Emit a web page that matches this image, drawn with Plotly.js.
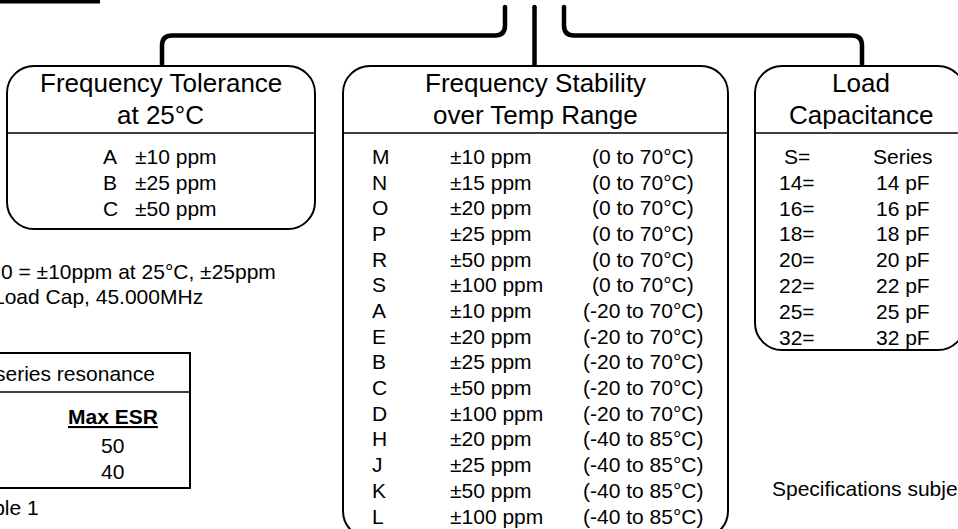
<!DOCTYPE html>
<html><head><meta charset="utf-8">
<script src="https://cdn.plot.ly/plotly-3.0.1.min.js"></script>
<style>html,body{margin:0;padding:0;background:#fff;overflow:hidden}#chart{width:958px;height:529px;}</style>
</head><body><div id="chart"></div>
<script>
// ---- content ----
const boxTitles = [["Frequency Tolerance", "at 25°C"], ["Frequency Stability", "over Temp Range"], ["Load", "Capacitance"]];
const toleranceCodes = ["A", "B", "C"];
const toleranceValues = ["±10 ppm", "±25 ppm", "±50 ppm"];
const stabilityCodes = ["M", "N", "O", "P", "R", "S", "A", "E", "B", "C", "D", "H", "J", "K", "L"];
const stabilityValues = ["±10 ppm", "±15 ppm", "±20 ppm", "±25 ppm", "±50 ppm", "±100 ppm", "±10 ppm", "±20 ppm", "±25 ppm", "±50 ppm", "±100 ppm", "±20 ppm", "±25 ppm", "±50 ppm", "±100 ppm"];
const stabilityRanges = ["(0 to 70°C)", "(0 to 70°C)", "(0 to 70°C)", "(0 to 70°C)", "(0 to 70°C)", "(0 to 70°C)", "(-20 to 70°C)", "(-20 to 70°C)", "(-20 to 70°C)", "(-20 to 70°C)", "(-20 to 70°C)", "(-40 to 85°C)", "(-40 to 85°C)", "(-40 to 85°C)", "(-40 to 85°C)"];
const loadCodes = ["S=", "14=", "16=", "18=", "20=", "22=", "25=", "32="];
const loadValues = ["Series", "14 pF", "16 pF", "18 pF", "20 pF", "22 pF", "25 pF", "32 pF"];
const exampleLines = ["0 = ±10ppm at 25°C, ±25ppm", "Load Cap, 45.000MHz"];
const esrHeader = "series resonance";
const esrColumn = "Max ESR";
const esrValues = ["50", "40"];
const tableCaption = "Table 1";
const footnote = "Specifications subject to change without notice.";

// ---- layout helpers ----
const FONT = "Liberation Sans, Arial, Helvetica, sans-serif";
const BODY = 21, TITLE = 26;
const annotations = [];
function txt(x, y, text, opts) {
  opts = opts || {};
  annotations.push({
    xref: "x", yref: "y", x: x, y: y, text: text, showarrow: false,
    xanchor: opts.xa || "center", yanchor: "middle",
    font: {family: FONT, size: opts.size || BODY, color: "#000"},
    borderpad: 0
  });
}
function roundRect(x0, y0, x1, y1, r) {
  const k = 0.5523 * r;
  return `M${x0 + r},${y0} L${x1 - r},${y0} C${x1 - r + k},${y0} ${x1},${y0 + r - k} ${x1},${y0 + r} ` +
    `L${x1},${y1 - r} C${x1},${y1 - r + k} ${x1 - r + k},${y1} ${x1 - r},${y1} ` +
    `L${x0 + r},${y1} C${x0 + r - k},${y1} ${x0},${y1 - r + k} ${x0},${y1 - r} ` +
    `L${x0},${y0 + r} C${x0},${y0 + r - k} ${x0 + r - k},${y0} ${x0 + r},${y0} Z`;
}
const shapes = [];
function pathShape(p, w) {
  shapes.push({type: "path", xref: "x", yref: "y", path: p, line: {color: "#000", width: w}});
}
function lineShape(x0, y0, x1, y1, w) {
  shapes.push({type: "line", xref: "x", yref: "y", x0: x0, y0: y0, x1: x1, y1: y1, line: {color: "#000", width: w}});
}
function dot(x, y, r) {
  shapes.push({type: "circle", xref: "x", yref: "y", x0: x - r, x1: x + r, y0: y - r, y1: y + r,
    fillcolor: "#000", line: {width: 0}});
}

// boxes
const TOP = 66, SEP = 133;
const boxes = [
  {x0: 7, x1: 315, y1: 229, cx: 160.5},
  {x0: 343, x1: 728, y1: 538, cx: 535},
  {x0: 755, x1: 965, y1: 350, cx: 861}
];
boxes.forEach((b, i) => {
  pathShape(roundRect(b.x0, TOP, b.x1, b.y1, 27), 2);
  lineShape(b.x0, SEP, b.x1, SEP, 1.5);
  txt(b.cx, 83, boxTitles[i][0], {size: TITLE});
  txt(b.cx, 115, boxTitles[i][1], {size: TITLE});
});

// connectors
const CW = 4.5, HY = 35.5, TY = 7;
pathShape(`M162,${TOP} L162,${HY + 10} Q162,${HY} 172,${HY} L495,${HY} Q505,${HY} 505,${HY - 10} L505,${TY}`, CW);
lineShape(534.5, TY, 534.5, TOP, CW);
pathShape(`M564,${TY} L564,${HY - 10} Q564,${HY} 574,${HY} L852,${HY} Q862,${HY} 862,${HY + 10} L862,${TOP}`, CW);
[505, 534.5, 564].forEach(x => dot(x, TY, CW / 2));
lineShape(-2, 1.5, 100, 1.5, 4);

// box 1 rows
toleranceCodes.forEach((c, i) => {
  const y = 156.5 + i * 26;
  txt(110, y, c);
  txt(134, y, toleranceValues[i], {xa: "left"});
});
// box 2 rows
stabilityCodes.forEach((c, i) => {
  const y = 156.5 + i * 25.68;
  txt(370.5, y, c, {xa: "left"});
  txt(449, y, stabilityValues[i], {xa: "left"});
  txt(643, y, stabilityRanges[i]);
});
// box 3 rows
loadCodes.forEach((c, i) => {
  const y = 156.5 + i * 25.8;
  txt(797, y, c);
  txt(903, y, loadValues[i]);
});

// example text
txt(277, 271, exampleLines[0], {xa: "right"});
txt(204, 296.5, exampleLines[1], {xa: "right"});

// ESR table
shapes.push({type: "rect", xref: "x", yref: "y", x0: -5, x1: 190, y0: 353, y1: 488, line: {color: "#000", width: 2}});
lineShape(-5, 392, 190, 392, 1.5);
txt(156, 373, esrHeader, {xa: "right"});
txt(112.5, 416.5, "<b><u>" + esrColumn + "</u></b>");
esrValues.forEach((v, i) => txt(112.5, 445.5 + i * 26, v));
txt(40, 507.5, tableCaption, {xa: "right"});

// footnote
txt(771, 488, footnote, {xa: "left"});

const layout = {
  width: 958, height: 529,
  margin: {l: 0, r: 0, t: 0, b: 0, pad: 0},
  paper_bgcolor: "#fff", plot_bgcolor: "#fff",
  xaxis: {range: [0, 958], visible: false, fixedrange: true},
  yaxis: {range: [529, 0], visible: false, fixedrange: true},
  showlegend: false,
  shapes: shapes,
  annotations: annotations
};
Plotly.newPlot("chart", [{x: [], y: [], type: "scatter", mode: "markers", hoverinfo: "skip"}], layout,
  {staticPlot: true, displayModeBar: false});
</script>
</body></html>
